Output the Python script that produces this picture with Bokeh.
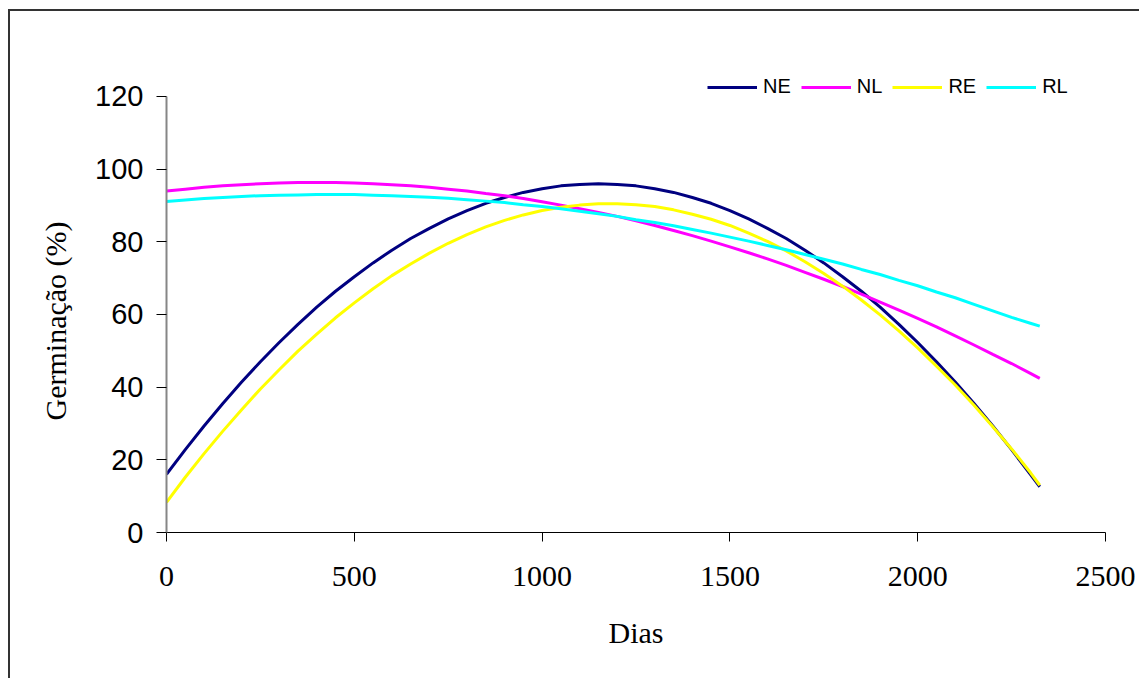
from bokeh.plotting import figure
from bokeh.models import Legend, LegendItem, FixedTicker, Range1d, Title
from bokeh.embed import file_html
from bokeh.resources import INLINE

# Days (x) and germination (%)
dias = [0, 50, 100, 150, 200, 250, 300, 350, 400, 450, 500, 550, 600, 650, 700, 750,
        800, 850, 900, 950, 1000, 1050, 1100, 1150, 1200, 1250, 1300, 1350, 1400, 1450,
        1500, 1550, 1600, 1650, 1700, 1750, 1800, 1850, 1900, 1950, 2000, 2050, 2100,
        2150, 2200, 2250, 2300, 2325]
ne = [16.0, 22.8, 29.3, 35.5, 41.4, 47.0, 52.3, 57.3, 62.0, 66.4, 70.4, 74.2, 77.7, 80.9,
      83.7, 86.3, 88.6, 90.6, 92.2, 93.6, 94.6, 95.4, 95.8, 96.0, 95.8, 95.4, 94.6, 93.6,
      92.2, 90.6, 88.6, 86.3, 83.7, 80.9, 77.7, 74.2, 70.4, 66.4, 62.0, 57.3, 52.3, 47.0,
      41.4, 35.5, 29.3, 22.8, 16.0, 12.6]
nl = [94.0, 94.5, 95.0, 95.4, 95.7, 96.0, 96.2, 96.3, 96.3, 96.3, 96.2, 96.0, 95.7, 95.4,
      95.0, 94.5, 94.0, 93.3, 92.7, 91.9, 91.0, 90.1, 89.1, 88.1, 87.0, 85.8, 84.5, 83.1,
      81.7, 80.2, 78.6, 77.0, 75.3, 73.5, 71.6, 69.7, 67.7, 65.6, 63.4, 61.2, 58.9, 56.6,
      54.1, 51.6, 49.0, 46.5, 43.8, 42.4]
re = [8.3, 15.2, 21.7, 27.9, 33.8, 39.5, 44.8, 49.9, 54.6, 59.1, 63.2, 67.1, 70.7, 73.9,
      76.9, 79.6, 82.0, 84.1, 85.9, 87.4, 88.6, 89.5, 90.1, 90.45, 90.5, 90.2, 89.7, 88.8,
      87.6, 86.2, 84.5, 82.4, 80.1, 77.5, 74.5, 71.3, 67.8, 64.0, 59.9, 55.5, 50.8, 45.8,
      40.6, 35.0, 29.1, 23.0, 16.5, 13.0]
rl = [91.1, 91.5, 91.9, 92.2, 92.5, 92.7, 92.8, 92.9, 93.0, 93.0, 93.0, 92.85, 92.7, 92.5,
      92.3, 92.0, 91.6, 91.2, 90.8, 90.2, 89.7, 89.1, 88.4, 87.7, 87.0, 86.1, 85.3, 84.4,
      83.4, 82.4, 81.3, 80.2, 79.0, 77.8, 76.5, 75.2, 73.9, 72.4, 71.0, 69.4, 67.9, 66.2,
      64.6, 62.8, 61.0, 59.2, 57.6, 56.8]

series_names = ["NE", "NL", "RE", "RL"]
series_colors = ["#000080", "#FF00FF", "#FFFF00", "#00FFFF"]
x_ticks = [0, 500, 1000, 1500, 2000, 2500]
y_ticks = [0, 20, 40, 60, 80, 100, 120]

# host is offset by (8, 9) px with margins; the outer chart border is drawn as an inset shadow
W, H = 1131, 669
p = figure(width=W, height=H, output_backend="svg", toolbar_location=None,
           x_range=Range1d(0, 2500), y_range=Range1d(0, 127.15),
           min_border_left=158, min_border_right=34, min_border_top=61, min_border_bottom=146)
p.styles = {"margin-left": "8px", "margin-top": "9px",
            "box-shadow": "inset 2px 2px 0 0 #333333"}
p.border_fill_color = None
p.background_fill_color = None
p.outline_line_color = None
p.xgrid.grid_line_color = None
p.ygrid.grid_line_color = None

serif = "Liberation Serif"
sans = "Liberation Sans"

# x axis
p.xaxis.ticker = FixedTicker(ticks=x_ticks)
p.xaxis.axis_line_color = "black"
p.xaxis.major_tick_line_color = "black"
p.xaxis.major_tick_out = 9
p.xaxis.major_tick_in = 0
p.xaxis.minor_tick_line_color = None
p.xaxis.major_label_text_font = serif
p.xaxis.major_label_text_font_size = "30px"
p.xaxis.major_label_text_color = "black"
p.xaxis.major_label_standoff = 25
p.xaxis.axis_label = "Dias"
p.xaxis.axis_label_text_font = serif
p.xaxis.axis_label_text_font_size = "30px"
p.xaxis.axis_label_text_font_style = "normal"
p.xaxis.axis_label_text_color = "black"
p.xaxis.axis_label_standoff = 27

# y axis
p.yaxis.ticker = FixedTicker(ticks=y_ticks)
p.yaxis.bounds = (0, 120)
p.yaxis.axis_line_color = "#868686"
p.yaxis.axis_line_width = 2
p.yaxis.major_tick_line_color = "black"
p.yaxis.major_tick_out = 10
p.yaxis.major_tick_in = 0
p.yaxis.minor_tick_line_color = None
p.yaxis.major_label_text_font = sans
p.yaxis.major_label_text_font_size = "29px"
p.yaxis.major_label_text_color = "black"
p.yaxis.major_label_standoff = 13

# y axis title, placed as a side title so it can be centred on the 0-120 span
ytitle = Title(text="Germinação (%)", align="left", offset=112,
               text_font=serif, text_font_size="30px", text_font_style="normal",
               text_color="black", standoff=42)
p.add_layout(ytitle, "left")

data = [ne, nl, re, rl]
items = []
for name, color, ys in zip(series_names, series_colors, data):
    r = p.line(dias, ys, line_color=color, line_width=3)
    items.append(LegendItem(label=name, renderers=[r]))

legend = Legend(items=items, orientation="horizontal", location=(541, 434),
                border_line_color=None, background_fill_alpha=0,
                label_text_font=sans, label_text_font_size="20px",
                label_text_color="black",
                glyph_width=50, glyph_height=20, label_height=20,
                label_standoff=6, spacing=10, padding=0, margin=0)
p.add_layout(legend, "center")

open("out.html", "w").write(file_html(p, INLINE))
